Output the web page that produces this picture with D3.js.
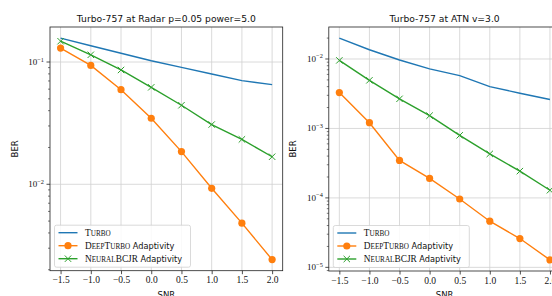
<!DOCTYPE html>
<html><head><meta charset="utf-8">
<script src="https://cdn.jsdelivr.net/npm/d3@7"></script>
<style>body{margin:0;background:#fff}svg{display:block}</style>
</head><body><svg id="c" width="552" height="296"></svg>
<script>
const snr = [-1.5, -1.0, -0.5, 0.0, 0.5, 1.0, 1.5, 2.0];
const xTicks = [-1.5, -1.0, -0.5, 0.0, 0.5, 1.0, 1.5, 2.0];

// Panel 1: Radar p=0.05 power=5.0
const radarTurbo = [0.157, 0.136, 0.118, 0.1025, 0.0904, 0.0798, 0.0705, 0.0653];
const radarDeepTurbo = [0.130, 0.0938, 0.0594, 0.0347, 0.0185, 0.00927, 0.00481, 0.00242];
const radarNeuralBCJR = [0.148, 0.1146, 0.0861, 0.0621, 0.0443, 0.0308, 0.0233, 0.0168];
const radarYTicks = [-1, -2];

// Panel 2: ATN v=3.0
const atnTurbo = [0.0200, 0.0136, 0.00968, 0.00720, 0.00577, 0.00401, 0.00321, 0.00261];
const atnDeepTurbo = [0.00329, 0.00121, 0.000346, 0.000191, 0.0000964, 0.0000462, 0.0000260, 0.0000128];
const atnNeuralBCJR = [0.00955, 0.00493, 0.00267, 0.00153, 0.000796, 0.000430, 0.000243, 0.000129];
const atnYTicks = [-2, -3, -4, -5];

const titles = ["Turbo-757 at Radar p=0.05 power=5.0", "Turbo-757 at ATN v=3.0"];
const colors = {turbo: "#1f77b4", deep: "#ff7f0e", neural: "#2ca02c"};

const svg = d3.select("#c");
const serif = "'Liberation Serif', 'DejaVu Serif', serif";
const sans = "'DejaVu Sans', sans-serif";

function fmtMinus(v){ return v.toFixed(1).replace("-", "\u2212"); }

function panel(cfg){
  const {x0, x1, y0, y1, title, turbo, deep, neural, yTicks, ylabX} = cfg;
  const g = svg.append("g");
  const x = d3.scaleLinear().domain([-1.5 - 0.175, 2.0 + 0.175]).range([x0, x1]);
  const all = turbo.concat(deep, neural).map(Math.log10);
  const lo = d3.min(all), hi = d3.max(all), m = (hi - lo) * 0.05;
  const y = d3.scaleLog().domain([Math.pow(10, lo - m), Math.pow(10, hi + m)]).range([y1, y0]);

  const clipId = "clip" + Math.round(x0);
  svg.append("clipPath").attr("id", clipId).append("rect")
    .attr("x", x0).attr("y", y0).attr("width", x1 - x0).attr("height", y1 - y0);

  // grid
  const grid = g.append("g").attr("clip-path", `url(#${clipId})`);
  xTicks.forEach(t => grid.append("line").attr("x1", x(t)).attr("x2", x(t)).attr("y1", y0).attr("y2", y1)
    .attr("stroke", "#d0d0d0").attr("stroke-width", 0.8));
  yTicks.forEach(e => grid.append("line").attr("x1", x0).attr("x2", x1).attr("y1", y(Math.pow(10, e))).attr("y2", y(Math.pow(10, e)))
    .attr("stroke", "#d0d0d0").attr("stroke-width", 0.8));

  // lines
  const line = d3.line().x((d, i) => x(snr[i])).y(d => y(d));
  const plot = g.append("g").attr("clip-path", `url(#${clipId})`);
  plot.append("path").datum(turbo).attr("d", line).attr("fill", "none").attr("stroke", colors.turbo).attr("stroke-width", 1.4);
  plot.append("path").datum(deep).attr("d", line).attr("fill", "none").attr("stroke", colors.deep).attr("stroke-width", 1.4);
  plot.append("path").datum(neural).attr("d", line).attr("fill", "none").attr("stroke", colors.neural).attr("stroke-width", 1.4);
  plot.selectAll(".dot").data(deep).enter().append("circle")
    .attr("cx", (d, i) => x(snr[i])).attr("cy", d => y(d)).attr("r", 3.6).attr("fill", colors.deep);
  const xs = 3.2;
  neural.forEach((d, i) => {
    const cx = x(snr[i]), cy = y(d);
    plot.append("path").attr("d", `M${cx-xs},${cy-xs}L${cx+xs},${cy+xs}M${cx-xs},${cy+xs}L${cx+xs},${cy-xs}`)
      .attr("stroke", colors.neural).attr("stroke-width", 1);
  });

  // axes
  const xa = d3.axisBottom(x).tickValues(xTicks).tickSize(3.5).tickFormat(fmtMinus);
  const xg = g.append("g").attr("transform", `translate(0,${y1})`).call(xa);
  xg.select(".domain").remove();
  xg.selectAll("line").attr("stroke", "#222").attr("stroke-width", 0.8);
  xg.selectAll("text").attr("font-family", serif).attr("font-size", 9.5).attr("fill", "#111").attr("dy", "0.8em").attr("y", 5);

  const [dlo, dhi] = y.domain();
  const minor = [];
  for (let e = Math.floor(Math.log10(dlo)); e <= Math.ceil(Math.log10(dhi)); e++)
    for (let k = 2; k <= 9; k++) { const v = k * Math.pow(10, e); if (v >= dlo && v <= dhi) minor.push(v); }
  minor.forEach(v => g.append("line").attr("x1", x0 - 2).attr("x2", x0).attr("y1", y(v)).attr("y2", y(v))
    .attr("stroke", "#222").attr("stroke-width", 0.6));
  yTicks.forEach(e => {
    const yy = y(Math.pow(10, e));
    g.append("line").attr("x1", x0 - 3.5).attr("x2", x0).attr("y1", yy).attr("y2", yy).attr("stroke", "#222").attr("stroke-width", 0.8);
    const t = g.append("text").attr("x", x0 - 6).attr("y", yy + 3).attr("text-anchor", "end")
      .attr("font-family", serif).attr("font-size", 9).attr("fill", "#111");
    t.append("tspan").text("10");
    t.append("tspan").attr("dy", -3.5).attr("font-size", 6.3).text("\u2212" + Math.abs(e));
  });

  // spines
  g.append("rect").attr("x", x0).attr("y", y0).attr("width", x1 - x0).attr("height", y1 - y0)
    .attr("fill", "none").attr("stroke", "#222").attr("stroke-width", 0.8);

  // title & labels
  g.append("text").attr("x", (x0 + x1) / 2).attr("y", y0 - 5).attr("text-anchor", "middle")
    .attr("font-family", sans).attr("font-size", 9.2).attr("fill", "#111").text(title);
  g.append("text").attr("x", (x0 + x1) / 2).attr("y", 298).attr("text-anchor", "middle")
    .attr("font-family", sans).attr("font-size", 8.5).attr("fill", "#111").text("SNR");
  g.append("text").attr("transform", `translate(${ylabX},${(y0 + y1) / 2}) rotate(-90)`).attr("text-anchor", "middle")
    .attr("font-family", sans).attr("font-size", 8.5).attr("fill", "#111").text("BER");

  // legend
  const lx = x0 + 4.5, ly = y1 - 45.5;
  const lg = g.append("g");
  lg.append("rect").attr("x", lx).attr("y", ly).attr("width", 136).attr("height", 42).attr("rx", 2)
    .attr("fill", "rgba(255,255,255,0.85)").attr("stroke", "#d0d0d0").attr("stroke-width", 0.8);
  const entries = [
    {c: colors.turbo, m: null, parts: [["T", 1], ["URBO", 0]], tail: ""},
    {c: colors.deep, m: "o", parts: [["D", 1], ["EEP", 0], ["T", 1], ["URBO", 0]], tail: " Adaptivity"},
    {c: colors.neural, m: "x", parts: [["N", 1], ["EURAL", 0], ["BCJR", 1]], tail: " Adaptivity"}
  ];
  entries.forEach((en, i) => {
    const yy = ly + 7.5 + i * 13;
    lg.append("line").attr("x1", lx + 4).attr("x2", lx + 23).attr("y1", yy).attr("y2", yy).attr("stroke", en.c).attr("stroke-width", 1.4);
    if (en.m === "o") lg.append("circle").attr("cx", lx + 13.5).attr("cy", yy).attr("r", 3.6).attr("fill", en.c);
    if (en.m === "x") lg.append("path").attr("d", `M${lx+13.5-xs},${yy-xs}L${lx+13.5+xs},${yy+xs}M${lx+13.5-xs},${yy+xs}L${lx+13.5+xs},${yy-xs}`)
      .attr("stroke", en.c).attr("stroke-width", 1);
    const t = lg.append("text").attr("x", lx + 30.5).attr("y", yy + 3).attr("fill", "#111");
    en.parts.forEach(p => t.append("tspan").attr("font-family", serif).attr("font-size", p[1] ? 9.3 : 7.2).text(p[0]));
    if (en.tail) t.append("tspan").attr("font-family", sans).attr("font-size", 8.2).text(en.tail);
  });
}

panel({x0: 50, x1: 282.7, y0: 27, y1: 270.7, title: titles[0], turbo: radarTurbo, deep: radarDeepTurbo, neural: radarNeuralBCJR, yTicks: radarYTicks, ylabX: 18});
panel({x0: 328.8, x1: 560.5, y0: 27, y1: 271, title: titles[1], turbo: atnTurbo, deep: atnDeepTurbo, neural: atnNeuralBCJR, yTicks: atnYTicks, ylabX: 296});
</script></body></html>
